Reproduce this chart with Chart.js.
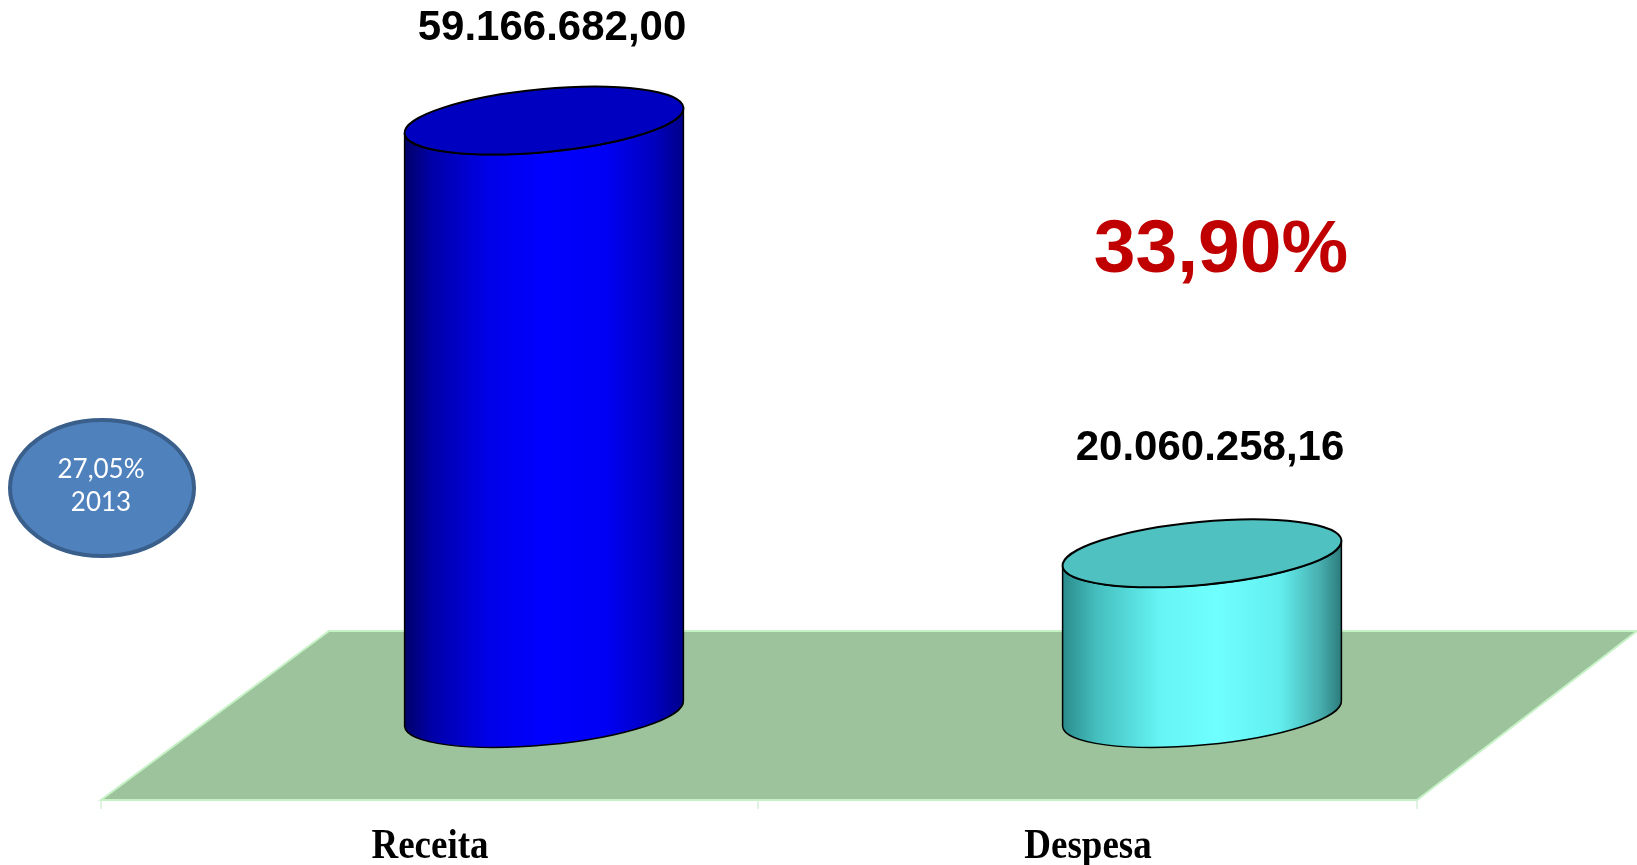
<!DOCTYPE html>
<html lang="pt">
<head>
<meta charset="UTF-8">
<title>Receita x Despesa</title>
<script src="https://cdn.jsdelivr.net/npm/chart.js"></script>
<style>
  html, body { margin: 0; padding: 0; background: #fff; }
  canvas { display: block; }
</style>
</head>
<body>
<canvas id="myChart" width="1637" height="865"></canvas>
<script>
    // data
    const categories = ['Receita', 'Despesa'];
    const values = [59166682.00, 20060258.16];
    const shareLabel = '33,90%';
    const noteLines = ['27,05%', '2013'];

    // pt-BR style number: 59.166.682,00
    function fmt(v) {
        const parts = v.toFixed(2).split('.');
        return parts[0].replace(/\B(?=(\d{3})+(?!\d))/g, '.') + ',' + parts[1];
    }

    const sideStops = [
        [[0, '#000068'], [0.1, '#0000A8'], [0.3, '#0000E8'], [0.5, '#0000FF'], [0.72, '#0000F4'], [0.9, '#0000BC'], [1, '#000088']],
        [[0, '#2A8A8A'], [0.12, '#44BDBD'], [0.35, '#66F4F4'], [0.55, '#70FFFF'], [0.78, '#62EEEE'], [0.92, '#48AFAF'], [1, '#2C7A7A']]
    ];
    const topColors = ['#0000C0', '#4FC1C1'];

    const cylinders = {
        id: 'cylinders',
        beforeDatasetsDraw(chart) {
            const ctx = chart.ctx;
            const base = chart.scales.y.getPixelForValue(chart.scales.y.min);
            const fTop = base - 82.5, fBot = base + 86.5;
            ctx.save();
            ctx.beginPath();
            ctx.moveTo(329, fTop);
            ctx.lineTo(1637, fTop);
            ctx.lineTo(1417, fBot);
            ctx.lineTo(101, fBot);
            ctx.closePath();
            ctx.fillStyle = '#9CC39C';
            ctx.fill();
            ctx.strokeStyle = '#C6F2C6';
            ctx.lineWidth = 2;
            ctx.stroke();
            // ticks on the front edge
            ctx.strokeStyle = '#D6EED6';
            ctx.lineWidth = 1.5;
            [101, 758, 1417].forEach(tx => {
                ctx.beginPath();
                ctx.moveTo(tx, fBot);
                ctx.lineTo(tx, fBot + 9);
                ctx.stroke();
            });
            ctx.restore();
        },
        afterDatasetsDraw(chart) {
            const ctx = chart.ctx;
            const meta = chart.getDatasetMeta(0);
            const base = chart.scales.y.getPixelForValue(chart.scales.y.min);
            const ry = 31.5, rot = -0.093;
            meta.data.forEach((el, i) => {
                const x = el.x, top = el.y, rx = el.width / 2;
                ctx.save();
                const g = ctx.createLinearGradient(x - rx, 0, x + rx, 0);
                sideStops[i].forEach(s => g.addColorStop(s[0], s[1]));
                ctx.beginPath();
                ctx.ellipse(x, base, rx, ry, rot, 0, Math.PI, false);
                ctx.lineTo(x - rx * Math.cos(rot), top - rx * Math.sin(rot));
                ctx.ellipse(x, top, rx, ry, rot, Math.PI, 0, true);
                ctx.closePath();
                ctx.fillStyle = g;
                ctx.fill();
                ctx.strokeStyle = '#000';
                ctx.lineWidth = 1.5;
                ctx.stroke();

                ctx.beginPath();
                ctx.ellipse(x, top, rx, ry, rot, 0, Math.PI * 2);
                ctx.fillStyle = topColors[i];
                ctx.fill();
                ctx.lineWidth = 2;
                ctx.stroke();

                // value label, kept inside the canvas top
                ctx.fillStyle = '#000';
                ctx.font = 'bold 42px "Liberation Sans", Arial, sans-serif';
                ctx.textAlign = 'center';
                ctx.textBaseline = 'middle';
                ctx.fillText(fmt(values[i]), x + 8, Math.max(top - 105, 28));

                // category label at the front edge of the floor
                ctx.translate(x - 114, 858);
                ctx.scale(0.88, 1);
                ctx.font = 'bold 42px "Liberation Serif", "Times New Roman", serif';
                ctx.textBaseline = 'alphabetic';
                ctx.fillText(categories[i], 0, 0);
                ctx.restore();
            });

            ctx.save();
            // percentage
            ctx.fillStyle = '#C00000';
            ctx.font = 'bold 75px "Liberation Sans", Arial, sans-serif';
            ctx.textAlign = 'center';
            ctx.textBaseline = 'middle';
            ctx.fillText(shareLabel, 1221, 251);

            // note bubble
            ctx.beginPath();
            ctx.ellipse(102, 488, 92, 68, 0, 0, Math.PI * 2);
            ctx.fillStyle = '#4F81BD';
            ctx.fill();
            ctx.strokeStyle = '#3A5F8B';
            ctx.lineWidth = 4;
            ctx.stroke();
            ctx.fillStyle = '#fff';
            ctx.font = '26px Lato, "Open Sans", sans-serif';
            ctx.fillText(noteLines[0], 101, 470);
            ctx.fillText(noteLines[1], 101, 503);
            ctx.restore();
        }
    };

    const ctx = document.getElementById('myChart').getContext('2d');
    const myChart = new Chart(ctx, {
        type: 'bar',
        data: {
            labels: categories,
            datasets: [{
                data: values,
                backgroundColor: 'rgba(0,0,0,0)',
                borderWidth: 0,
                barThickness: 280
            }]
        },
        options: {
            responsive: false,
            animation: false,
            layout: {
                padding: { left: 215, right: 106, top: 60, bottom: 151.5 }
            },
            plugins: {
                legend: { display: false },
                tooltip: { enabled: false }
            },
            scales: {
                x: { display: false },
                y: { display: false, min: 5580000, max: 64640000 }
            }
        },
        plugins: [cylinders]
    });
</script>
</body>
</html>
